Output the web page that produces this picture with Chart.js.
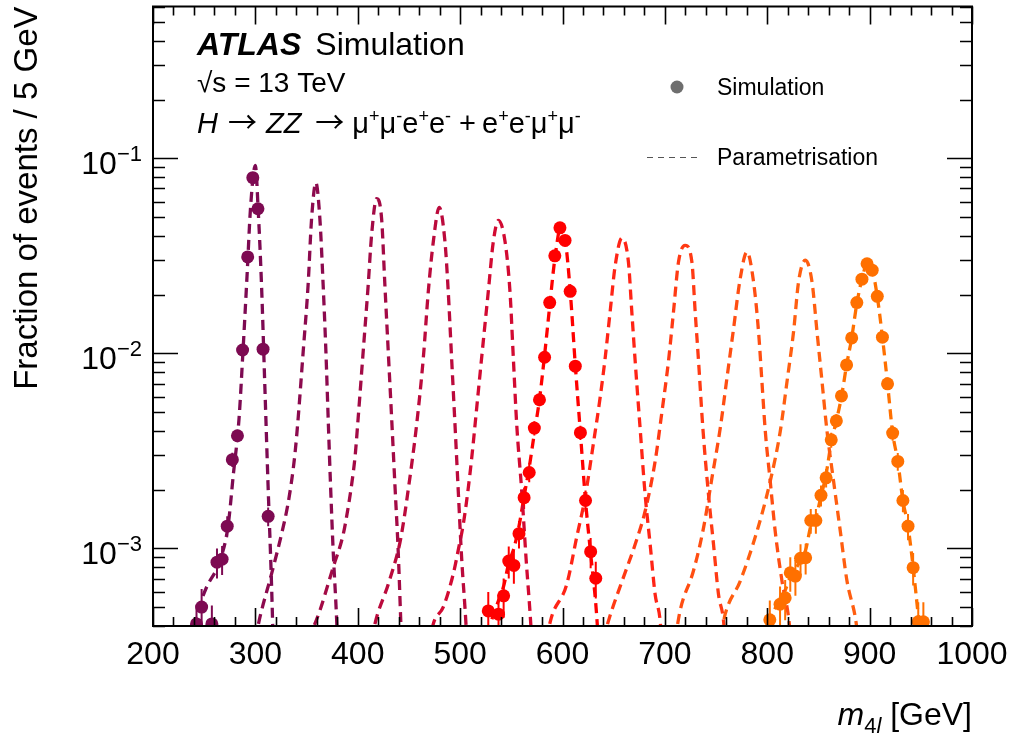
<!DOCTYPE html>
<html><head><meta charset="utf-8">
<script src="https://cdn.jsdelivr.net/npm/chart.js@4.4.1/dist/chart.umd.min.js"></script>
<style>html,body{margin:0;padding:0;background:#fff}canvas{display:block}</style>
</head><body>
<canvas id="c" width="1010" height="740"></canvas>
<script>
const FONT = "'Liberation Sans', Arial, Helvetica, sans-serif";

// ---- axis ranges / tick labels ----
const xRange = [200, 1000];
const yRange = [4e-4, 0.6];
const xTickLabels = ['200','300','400','500','600','700','800','900','1000'];
const yMajorTicks = [1e-3, 1e-2, 1e-1];
const yMajorExponents = ['\u22123', '\u22122', '\u22121'];

// ---- mass hypotheses and colours ----
const massHypotheses = [300, 360, 420, 480, 540, 600, 660, 720, 780, 840, 900];
const curveColors = ['#7d0a52', '#8c0a4e', '#a30a45', '#bb0a3c', '#d20a32', '#ff0000',
                     '#ff2416', '#ff3a14', '#ff4e12', '#ff5e10', '#ff7000'];

// ---- parametrisation curves [m4l, fraction] ----
const par300 = [[236,3.3e-4],[242.4,4.4e-4],[247.3,5.4e-4],[252.2,6.3e-4],[265.2,8.6e-4],[273.3,1.3e-3],[278.5,2.4e-3],[284,4.6e-3],[288,1.05e-2],[291.9,2.52e-2],[295.2,5.5e-2],[300,9.2e-2],[302.7,5.5e-2],[306,2.24e-2],[309.2,6.9e-3],[312.4,2.1e-3],[315.8,6.5e-4],[318,2.5e-4]];
const par360 = [[300,3.4e-4],[304.3,4.4e-4],[315.8,7.4e-4],[325.5,1.18e-3],[331,1.6e-3],[335.3,2.2e-3],[338.8,3.1e-3],[341.8,4.66e-3],[346.7,1.02e-2],[351.5,2.24e-2],[354.9,4.9e-2],[359.1,7.5e-2],[363,4.9e-2],[366.2,2.24e-2],[368.9,1.02e-2],[371.1,4.66e-3],[373.4,2.12e-3],[376,9.7e-4],[379.3,4.4e-4],[381,2.5e-4]];
const par420 = [[352,3.4e-4],[358.1,4.1e-4],[363,4.8e-4],[376,8.0e-4],[385.8,1.18e-3],[390,1.55e-3],[394,2.12e-3],[397.5,3.0e-3],[400.4,4.66e-3],[405.3,1.02e-2],[410.2,2.24e-2],[413.5,4.03e-2],[418.4,6.2e-2],[423.3,4.9e-2],[426.5,2.24e-2],[429.8,1.02e-2],[433.1,4.66e-3],[436.3,2.12e-3],[439.5,9.7e-4],[441.9,4.4e-4],[443.5,2.5e-4]];
const par480 = [[414,3.4e-4],[416.8,4.1e-4],[429.8,6.55e-4],[441.2,1.07e-3],[445.5,1.45e-3],[449.3,2.0e-3],[453.5,2.9e-3],[457.5,4.3e-3],[464,9.4e-3],[468.9,2.07e-2],[473.8,3.73e-2],[479.6,5.6e-2],[485.2,3.73e-2],[488.4,2.07e-2],[491.7,9.4e-3],[495,4.3e-3],[498.2,1.96e-3],[501.5,8.9e-4],[505.7,4.1e-4],[507.5,2.6e-4]];
const par540 = [[470,3.2e-4],[473.8,4.1e-4],[483.5,5.0e-4],[493.3,7.4e-4],[498.5,1.0e-3],[503.1,1.33e-3],[507.5,1.95e-3],[511.3,2.9e-3],[517.8,6.4e-3],[522.6,1.15e-2],[527.5,2.07e-2],[532.4,3.73e-2],[537.3,4.8e-2],[543.9,3.73e-2],[548.7,2.07e-2],[552,9.4e-3],[555.3,4.3e-3],[560.2,1.96e-3],[564.4,8.9e-4],[569,4.1e-4],[571,2.6e-4]];
const par600 = [[527,3.6e-4],[532,4.5e-4],[537.5,5.4e-4],[542.5,6.4e-4],[547.5,8.4e-4],[552.5,1.0e-3],[557.5,1.3e-3],[562.5,1.85e-3],[567.5,2.6e-3],[572.5,3.9e-3],[577.5,5.8e-3],[582.5,9.8e-3],[587.5,1.75e-2],[592.5,3.05e-2],[599,4.6e-2],[602.5,3.9e-2],[607.5,2.1e-2],[612.5,8.7e-3],[617.5,3.9e-3],[622.5,1.75e-3],[627.5,9.4e-4],[632.5,5.2e-4],[635,3.4e-4]];
const par660 = [[585,3.4e-4],[588,4.2e-4],[604,6.5e-4],[614,1.15e-3],[622,1.82e-3],[630,3.4e-3],[636.7,5.9e-3],[641.6,9.4e-3],[646.5,1.63e-2],[651.4,2.8e-2],[658,3.9e-2],[664.4,2.94e-2],[667.7,1.63e-2],[671,9.1e-3],[675.8,4.14e-3],[680.7,1.89e-3],[685.6,1.05e-3],[690.5,5.8e-4],[695.4,4.25e-4],[697,3.2e-4]];
const par720 = [[640,3.4e-4],[644.9,4.25e-4],[659.5,7.1e-4],[671,1.05e-3],[680.7,1.55e-3],[690.5,2.8e-3],[697.1,5.0e-3],[703.5,9.1e-3],[708.4,1.63e-2],[713.3,2.94e-2],[719.8,3.58e-2],[726.4,2.94e-2],[729.6,1.63e-2],[732.9,9.1e-3],[737.1,4.14e-3],[742.6,1.89e-3],[747.5,1.05e-3],[752.4,5.8e-4],[757.3,4.25e-4],[759,3.2e-4]];
const par780 = [[710,3.4e-4],[714.9,4.8e-4],[728,7.7e-4],[737.7,1.27e-3],[746,2.3e-3],[754.1,4.14e-3],[760.6,7.45e-3],[767.1,1.34e-2],[773.6,2.42e-2],[780.2,3.31e-2],[786.6,2.33e-2],[791.5,1.29e-2],[794.8,7.16e-3],[798.1,3.98e-3],[802.9,2.21e-3],[807.8,1.22e-3],[814.4,6.8e-4],[820.9,4.4e-4],[823,3.4e-4]];
const par840 = [[755,3.6e-4],[758.9,4.6e-4],[773.6,6.8e-4],[789.9,1.22e-3],[802.9,2.21e-3],[812.7,3.98e-3],[819.3,7.16e-3],[825.7,1.29e-2],[830.6,2.33e-2],[837.2,3.0e-2],[843.7,2.33e-2],[848.6,1.29e-2],[853.5,7.16e-3],[858.4,3.98e-3],[864.8,2.21e-3],[871.4,1.22e-3],[877.9,6.8e-4],[886.1,4.4e-4],[889,3.4e-4]];
const par900 = [[799,3.4e-4],[802.5,4.3e-4],[807.5,4.9e-4],[812.5,5.4e-4],[817.5,6.1e-4],[822.5,7.1e-4],[827.5,7.8e-4],[832.5,8.7e-4],[837.5,9.8e-4],[842.5,1.3e-3],[847.5,1.45e-3],[852.5,1.85e-3],[857.5,2.4e-3],[862.5,3.5e-3],[867.5,4.5e-3],[872.5,6.0e-3],[877.5,8.7e-3],[882.5,1.2e-2],[887.5,1.8e-2],[892.5,2.4e-2],[898,2.92e-2],[902.5,2.7e-2],[907.5,1.95e-2],[912.5,1.21e-2],[917.5,7.0e-3],[922.5,3.9e-3],[927.5,2.8e-3],[932.5,1.76e-3],[937.5,1.3e-3],[942.5,8.0e-4],[947.5,4.5e-4],[950,3.3e-4]];
const parCurves = [par300, par360, par420, par480, par540, par600, par660, par720, par780, par840, par900];

// ---- simulation points (5 GeV bins) ----
const simMass300 = [242.5,247.5,257.5,262.5,267.5,272.5,277.5,282.5,287.5,292.5,297.5,302.5,307.5,312.5];
const simFrac300 = [4.1e-4,5.0e-4,4.1e-4,8.5e-4,8.8e-4,1.30e-3,2.85e-3,3.78e-3,1.04e-2,3.12e-2,7.95e-2,5.51e-2,1.05e-2,1.46e-3];
const simErr300  = [1.0e-4,1.2e-4,1.0e-4,1.5e-4,1.5e-4,1.6e-4,2.4e-4,2.8e-4,4.5e-4,8e-4,1.3e-3,1.1e-3,4.5e-4,1.6e-4];

const simMass600 = [527.5,537.5,542.5,547.5,552.5,557.5,562.5,567.5,572.5,577.5,582.5,587.5,592.5,597.5,602.5,607.5,612.5,617.5,622.5,627.5,632.5];
const simFrac600 = [4.78e-4,4.6e-4,5.71e-4,8.61e-4,8.18e-4,1.19e-3,1.82e-3,2.45e-3,4.14e-3,5.78e-3,9.55e-3,1.82e-2,3.16e-2,4.4e-2,3.79e-2,2.08e-2,8.59e-3,3.92e-3,1.76e-3,9.62e-4,7.03e-4];
const simErr600  = [1.2e-4,1.2e-4,1.3e-4,1.6e-4,1.6e-4,1.9e-4,2.3e-4,2.7e-4,3.5e-4,4.2e-4,5.5e-4,7.5e-4,1e-3,1.2e-3,1.1e-3,8e-4,5e-4,3.3e-4,2.2e-4,1.7e-4,1.5e-4];

const simMass900 = [802.5,812.5,817.5,822.5,827.5,832.5,837.5,842.5,847.5,852.5,857.5,862.5,867.5,872.5,877.5,882.5,887.5,892.5,897.5,902.5,907.5,912.5,917.5,922.5,927.5,932.5,937.5,942.5,947.5,952.5];
const simFrac900 = [4.3e-4,5.17e-4,5.58e-4,7.5e-4,7.21e-4,8.9e-4,8.95e-4,1.39e-3,1.39e-3,1.87e-3,2.3e-3,3.6e-3,4.51e-3,6.05e-3,8.72e-3,1.2e-2,1.82e-2,2.4e-2,2.88e-2,2.67e-2,1.96e-2,1.21e-2,6.98e-3,3.9e-3,2.79e-3,1.76e-3,1.3e-3,7.96e-4,4.2e-4,4.2e-4];
const simErr900  = [1.1e-4,1.2e-4,1.3e-4,1.5e-4,1.5e-4,1.6e-4,1.6e-4,2e-4,2e-4,2.3e-4,2.5e-4,3.2e-4,3.6e-4,4.2e-4,5e-4,6e-4,7.5e-4,8.5e-4,9.5e-4,9e-4,7.8e-4,6e-4,4.6e-4,3.4e-4,2.9e-4,2.3e-4,2e-4,1.5e-4,1.1e-4,1.1e-4];

const simSets = [
  {mass: simMass300, frac: simFrac300, err: simErr300, color: curveColors[0]},
  {mass: simMass600, frac: simFrac600, err: simErr600, color: curveColors[5]},
  {mass: simMass900, frac: simFrac900, err: simErr900, color: curveColors[10]}
];

// ---- datasets ----
const datasets = [];
simSets.forEach(s => {
  datasets.push({
    label: 'Simulation', type: 'line', showLine: false, order: 0,
    data: s.mass.map((m, i) => ({x: m, y: s.frac[i]})),
    pointRadius: 6.5, pointHoverRadius: 6.5, pointBorderWidth: 0,
    pointBackgroundColor: s.color, borderColor: s.color, errors: s.err
  });
});
parCurves.forEach((c, i) => {
  datasets.push({
    label: 'Parametrisation ' + massHypotheses[i], type: 'line', order: 1,
    data: c.map(p => ({x: p[0], y: p[1]})),
    borderColor: curveColors[i], borderWidth: 3.3, borderDash: [10, 6],
    borderCapStyle: 'butt', pointRadius: 0, fill: false,
    cubicInterpolationMode: 'monotone'
  });
});

// ---- helpers ----
function drawRich(ctx, x, y, segs) {
  segs.forEach(s => {
    ctx.font = s.font;
    ctx.fillText(s.t, x, y + (s.dy || 0));
    x += ctx.measureText(s.t).width + (s.gap || 0);
  });
  return x;
}

const errorBars = {
  id: 'errorBars',
  beforeDatasetsDraw(chart) {
    const {ctx, chartArea: a, scales: {x, y}} = chart;
    ctx.save();
    ctx.beginPath(); ctx.rect(a.left, a.top, a.right - a.left, a.bottom - a.top); ctx.clip();
    ctx.lineWidth = 2;
    chart.data.datasets.forEach(ds => {
      if (!ds.errors) return;
      ctx.strokeStyle = ds.borderColor;
      ds.data.forEach((p, i) => {
        const e = ds.errors[i];
        const px = x.getPixelForValue(p.x);
        const y1 = y.getPixelForValue(p.y + e);
        const y2 = y.getPixelForValue(Math.max(p.y - e, 1e-6));
        ctx.beginPath(); ctx.moveTo(px, y1); ctx.lineTo(px, y2); ctx.stroke();
      });
    });
    ctx.restore();
  }
};

const atlasDecor = {
  id: 'atlasDecor',
  afterDraw(chart) {
    const {ctx, chartArea: a, scales: {x, y}} = chart;
    ctx.save();
    ctx.strokeStyle = '#000'; ctx.fillStyle = '#000';
    // frame
    ctx.lineWidth = 2;
    ctx.strokeRect(a.left, a.top, a.right - a.left, a.bottom - a.top);
    // x ticks (inward, bottom & top)
    ctx.lineWidth = 1.6;
    x.ticks.forEach(t => {
      const px = Math.round(x.getPixelForValue(t.value)) + 0.5;
      const major = Math.abs(t.value % 100) < 1e-6;
      const len = major ? 18 : 9;
      ctx.beginPath();
      ctx.moveTo(px, a.bottom); ctx.lineTo(px, a.bottom - len);
      ctx.moveTo(px, a.top); ctx.lineTo(px, a.top + len);
      ctx.stroke();
    });
    // y ticks (inward, left & right)
    for (let e = -4; e <= 0; e++) {
      for (let k = 1; k <= 9; k++) {
        const v = k * Math.pow(10, e);
        if (v < yRange[0] * 0.999 || v > yRange[1] * 1.001) continue;
        const py = Math.round(y.getPixelForValue(v)) + 0.5;
        const len = k === 1 ? 25 : 12;
        ctx.beginPath();
        ctx.moveTo(a.left, py); ctx.lineTo(a.left + len, py);
        ctx.moveTo(a.right, py); ctx.lineTo(a.right - len, py);
        ctx.stroke();
      }
    }
    // y tick labels 10^-n
    ctx.textBaseline = 'alphabetic';
    yMajorTicks.forEach((v, i) => {
      const py = y.getPixelForValue(v);
      ctx.textAlign = 'right';
      ctx.font = '22px ' + FONT;
      const supW = ctx.measureText(yMajorExponents[i]).width;
      ctx.fillText(yMajorExponents[i], a.left - 11, py + 3);
      ctx.font = '32px ' + FONT;
      ctx.fillText('10', a.left - 11 - supW, py + 15.5);
    });
    // y axis title
    ctx.save();
    ctx.translate(36.5, a.top);
    ctx.rotate(-Math.PI / 2);
    ctx.textAlign = 'right';
    ctx.font = '33px ' + FONT;
    ctx.fillText('Fraction of events / 5 GeV', 0, 0);
    ctx.restore();
    // x axis title: m_{4l} [GeV], right aligned
    ctx.textAlign = 'left';
    const segX = [
      {t: 'm', font: 'italic 32px ' + FONT},
      {t: '4', font: '22px ' + FONT, dy: 8},
      {t: 'l', font: 'italic 22px ' + FONT, dy: 8, gap: 0},
      {t: ' [GeV]', font: '32px ' + FONT}
    ];
    let w = 0;
    segX.forEach(s => { ctx.font = s.font; w += ctx.measureText(s.t).width; });
    drawRich(ctx, a.right - w, 725, segX);
    // ATLAS label
    ctx.font = 'italic bold 32px ' + FONT;
    ctx.fillText('ATLAS', 197, 55);
    const aw = ctx.measureText('ATLAS').width;
    ctx.font = '32px ' + FONT;
    ctx.fillText('Simulation', 197 + aw + 14, 55);
    ctx.font = '28px ' + FONT;
    ctx.fillText('\u221As = 13 TeV', 197, 92);
    const f = '29px ' + FONT, fi = 'italic 29px ' + FONT, fs = '18px ' + FONT;
    const fa = "29px 'Noto Sans CJK SC', " + FONT;
    drawRich(ctx, 197, 133, [
      {t: 'H', font: fi, gap: 10}, {t: '\u2192', font: fa, gap: 9}, {t: 'ZZ', font: fi, gap: 14},
      {t: '\u2192', font: fa, gap: 8}, {t: '\u03BC', font: f},
      {t: '+', font: fs, dy: -11}, {t: '\u03BC', font: f}, {t: '-', font: fs, dy: -11},
      {t: 'e', font: f}, {t: '+', font: fs, dy: -11}, {t: 'e', font: f}, {t: '-', font: fs, dy: -11},
      {t: ' +', font: f, gap: 6}, {t: 'e', font: f}, {t: '+', font: fs, dy: -11}, {t: 'e', font: f}, {t: '-', font: fs, dy: -11},
      {t: '\u03BC', font: f}, {t: '+', font: fs, dy: -11}, {t: '\u03BC', font: f}, {t: '-', font: fs, dy: -11}
    ]);
    // legend
    ctx.fillStyle = '#6e6e6e';
    ctx.beginPath(); ctx.arc(677, 87, 6.5, 0, Math.PI * 2); ctx.fill();
    ctx.strokeStyle = '#555'; ctx.lineWidth = 1; ctx.setLineDash([6, 5]);
    ctx.beginPath(); ctx.moveTo(647, 157.5); ctx.lineTo(700, 157.5); ctx.stroke();
    ctx.setLineDash([]);
    ctx.fillStyle = '#000';
    ctx.font = '23px ' + FONT;
    ctx.fillText('Simulation', 717, 95);
    ctx.fillText('Parametrisation', 717, 165);
    ctx.restore();
  }
};

new Chart(document.getElementById('c'), {
  type: 'line',
  data: {datasets},
  options: {
    responsive: false, animation: false, devicePixelRatio: 1,
    layout: {padding: {top: 3, right: 38, left: 0, bottom: 0}},
    plugins: {legend: {display: false}, tooltip: {enabled: false}},
    scales: {
      x: {
        type: 'linear', min: xRange[0], max: xRange[1],
        grid: {display: false}, border: {display: false},
        afterFit: s => { s.height = 114; },
        ticks: {
          stepSize: 20, autoSkip: false, maxRotation: 0, padding: 2, color: '#000',
          font: {family: FONT, size: 32},
          callback: v => (Math.abs(v % 100) < 1e-6 && xTickLabels.includes(String(v))) ? String(v) : ''
        }
      },
      y: {
        type: 'logarithmic', min: yRange[0], max: yRange[1],
        grid: {display: false}, border: {display: false},
        afterFit: s => { s.width = 153; },
        ticks: {display: false}
      }
    }
  },
  plugins: [errorBars, atlasDecor]
});
</script>
</body></html>
